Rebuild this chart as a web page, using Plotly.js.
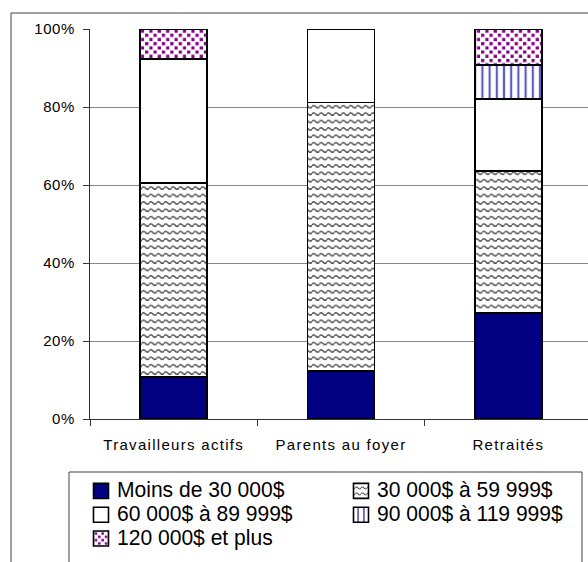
<!DOCTYPE html>
<html>
<head>
<meta charset="utf-8">
<script src="https://cdn.plot.ly/plotly-3.0.1.min.js"></script>
<style>
  html, body { margin: 0; padding: 0; overflow: hidden; background: #fff; }
  #chart { width: 600px; height: 562px; }
  .xtick text { letter-spacing: 1.3px; }
  .ytick text { letter-spacing: 0.6px; }
</style>
</head>
<body>
<div id="chart"></div>
<script>
// Household income distribution by group (share of each group, %)
const categories = ['Travailleurs actifs', 'Parents au foyer', 'Retraités'];
const seriesNames = ['Moins de 30 000$', '30 000$ à 59 999$', '60 000$ à 89 999$',
                     '90 000$ à 119 999$', '120 000$ et plus'];
const moins30k  = [10.8, 12.3, 27.2];
const de30a60k  = [49.7, 68.9, 36.4];
const de60a90k  = [31.8, 18.8, 18.5];
const de90a120k = [0.0, 0.0, 8.7];
const plus120k  = [7.7, 0.0, 9.2];
const yTickVals = [0, 20, 40, 60, 80, 100];
const yTickText = ['0%', '20%', '40%', '60%', '80%', '100%'];

const seriesValues = [moins30k, de30a60k, de60a90k, de90a120k, plus120k];

const WAVE_COLOR = '#4a4a4a';
const DOT_COLOR = '#800080';

// fill style for each income band
const fills = [
  { color: '#000080' },
  { color: '#ffffff', pattern: { shape: '-', fgcolor: WAVE_COLOR, bgcolor: '#ffffff', size: 7.4, solidity: 0.2, fillmode: 'replace' } },
  { color: '#ffffff' },
  { color: '#ffffff', pattern: { shape: '|', fgcolor: '#5a5abf', bgcolor: '#ffffff', size: 7.2, solidity: 0.3, fillmode: 'replace' } },
  { color: '#ffffff', pattern: { shape: '.', fgcolor: DOT_COLOR, bgcolor: '#ffffff', size: 8.4, solidity: 0.2, fillmode: 'replace' } }
];

const AXIS_FONT = '"Liberation Sans", Arial, sans-serif';

const traces = seriesNames.map((name, i) => ({
  type: 'bar',
  name: '<span style="font-size:21.5px">' + name + '</span>',
  x: categories,
  y: seriesValues[i],
  marker: Object.assign({}, fills[i], { line: { color: '#000000', width: 1.6 } }),
  hoverinfo: 'x+y'
}));

// paper-coordinate helpers for positions given in pixels (plot area: x 90..592, y 29..419)
const px = v => (v - 90) / 502;
const py = v => (419 - v) / 390;

const layout = {
  width: 600,
  height: 562,
  margin: { l: 90, r: 8, t: 29, b: 143, autoexpand: false },
  paper_bgcolor: '#ffffff',
  plot_bgcolor: '#ffffff',
  barmode: 'stack',
  bargap: 0.6,
  showlegend: true,
  legend: {
    orientation: 'h',
    x: px(81), y: py(474),
    xanchor: 'left', yanchor: 'top',
    entrywidth: 215, entrywidthmode: 'pixels',
    traceorder: 'normal',
    bgcolor: 'rgba(0,0,0,0)',
    borderwidth: 0,
    font: { family: AXIS_FONT, size: 16, color: '#000000' }
  },
  xaxis: {
    type: 'category',
    showline: true, linecolor: '#333333', linewidth: 1,
    ticks: 'outside', tickson: 'boundaries', ticklen: 6, tickcolor: '#333333',
    tickfont: { family: AXIS_FONT, size: 15, color: '#000000' },
    ticklabelstandoff: 12,
    showgrid: false, zeroline: false, fixedrange: true
  },
  yaxis: {
    range: [0, 100],
    tickvals: yTickVals, ticktext: yTickText,
    showline: true, linecolor: '#333333', linewidth: 1,
    ticks: 'outside', ticklen: 6, tickcolor: '#333333',
    tickfont: { family: AXIS_FONT, size: 15, color: '#000000' },
    ticklabelstandoff: 5,
    showgrid: true, gridcolor: '#868686', gridwidth: 1,
    zeroline: false, fixedrange: true
  },
  shapes: [
    // outer chart frame
    { type: 'rect', xref: 'paper', yref: 'paper', layer: 'below',
      x0: px(11), x1: 1.2, y0: -0.8, y1: py(13),
      line: { color: '#404040', width: 1 }, fillcolor: 'rgba(0,0,0,0)' },
    // legend frame
    { type: 'rect', xref: 'paper', yref: 'paper', layer: 'below',
      x0: px(69), x1: px(582), y0: -0.8, y1: py(472),
      line: { color: '#404040', width: 1 }, fillcolor: 'rgba(0,0,0,0)' }
  ]
};

const SVGNS = 'http://www.w3.org/2000/svg';
const LEGEND_TEXT_X = 36;         // text start inside each legend entry
const LEGEND_TEXT_SQUEEZE = 0.98; // slightly condensed legend labels

function normColor(el) {
  return (el.getAttribute('stroke') || el.getAttribute('fill') || el.style.stroke || el.style.fill || '')
    .replace(/\s/g, '').toLowerCase();
}

// texture tweaks: wavy lines for the 30–59k band, staggered speckles for 120k+,
// larger legend swatches and legend label placement
function refineTextures() {
  document.querySelectorAll('pattern').forEach(pat => {
    const w = parseFloat(pat.getAttribute('width'));
    const h = parseFloat(pat.getAttribute('height'));
    const p = pat.querySelector('path');
    if (p) {
      const c = normColor(p);
      if (c === WAVE_COLOR || c === 'rgb(74,74,74)') {
        const mid = h / 2, a = h * 0.32;
        p.setAttribute('d', 'M0,' + mid + ' Q' + (w / 4) + ',' + (mid - a) + ' ' + (w / 2) + ',' + mid +
                            ' T' + w + ',' + mid);
        p.setAttribute('fill', 'none');
        p.setAttribute('stroke-width', '1.4');
        p.style.fill = 'none';
        p.style.strokeWidth = '1.4px';
      }
    }
    const dot = pat.querySelector('circle');
    if (dot && !pat.dataset.speckled) {
      const c = normColor(dot);
      if (c === DOT_COLOR || c === 'rgb(128,0,128)') {
        pat.dataset.speckled = '1';
        const s = 3.2;
        [[0.25, 0.25], [0.75, 0.75]].forEach(([fx, fy]) => {
          const r = document.createElementNS(SVGNS, 'rect');
          r.setAttribute('x', fx * w - s / 2);
          r.setAttribute('y', fy * h - s / 2);
          r.setAttribute('width', s);
          r.setAttribute('height', s);
          r.setAttribute('fill', DOT_COLOR);
          pat.appendChild(r);
        });
        dot.remove();
      }
    }
  });
  document.querySelectorAll('.legendpoints path').forEach(p => {
    if ((p.getAttribute('d') || '').replace(/\s/g, '') === 'M6,6H-6V-6H6Z') {
      p.setAttribute('d', 'M7.5,7.5H-7.5V-7.5H7.5Z');
    }
  });
  document.querySelectorAll('.legendtext').forEach(t => {
    t.setAttribute('x', LEGEND_TEXT_X);
    t.querySelectorAll('tspan[x]').forEach(ts => ts.setAttribute('x', LEGEND_TEXT_X));
    const k = LEGEND_TEXT_SQUEEZE;
    t.setAttribute('transform', 'matrix(' + k + ',0,0,1,' + (LEGEND_TEXT_X * (1 - k)) + ',0)');
  });
}

const gd = document.getElementById('chart');
Plotly.newPlot(gd, traces, layout, { displayModeBar: false, staticPlot: true }).then(() => {
  refineTextures();
  gd.on && gd.on('plotly_afterplot', refineTextures);
});
</script>
</body>
</html>
